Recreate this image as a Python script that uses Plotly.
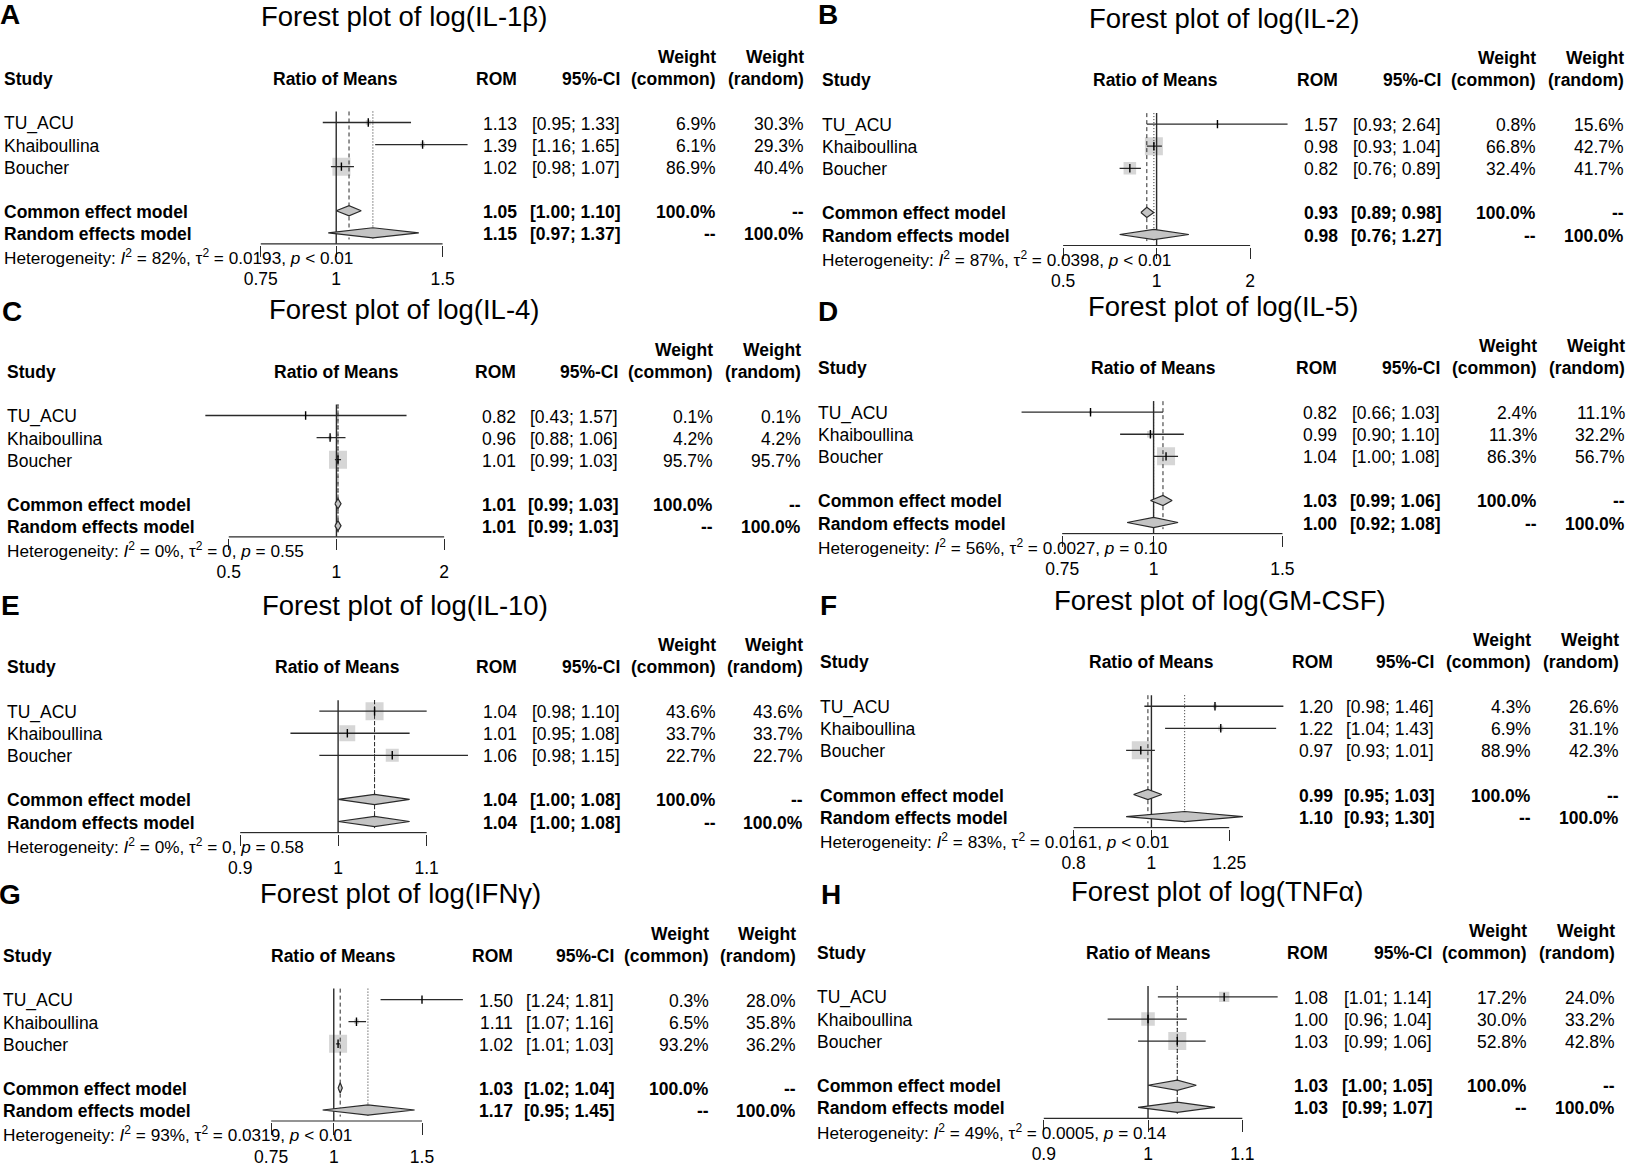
import numpy as np
import plotly.graph_objects as go

# ---- data ----
studies = ["TU_ACU", "Khaiboullina", "Boucher"]
letters = ["A", "B", "C", "D", "E", "F", "G", "H"]
cytokines = ["IL-1β", "IL-2", "IL-4", "IL-5", "IL-10", "GM-CSF", "IFNγ", "TNFα"]

rom = [[1.13, 1.39, 1.02], [1.57, 0.98, 0.82], [0.82, 0.96, 1.01], [0.82, 0.99, 1.04],
       [1.04, 1.01, 1.06], [1.20, 1.22, 0.97], [1.50, 1.11, 1.02], [1.08, 1.00, 1.03]]
ci_low = [[0.95, 1.16, 0.98], [0.93, 0.93, 0.76], [0.43, 0.88, 0.99], [0.66, 0.90, 1.00],
          [0.98, 0.95, 0.98], [0.98, 1.04, 0.93], [1.24, 1.07, 1.01], [1.01, 0.96, 0.99]]
ci_high = [[1.33, 1.65, 1.07], [2.64, 1.04, 0.89], [1.57, 1.06, 1.03], [1.03, 1.10, 1.08],
           [1.10, 1.08, 1.15], [1.46, 1.43, 1.01], [1.81, 1.16, 1.03], [1.14, 1.04, 1.06]]
w_common = [[6.9, 6.1, 86.9], [0.8, 66.8, 32.4], [0.1, 4.2, 95.7], [2.4, 11.3, 86.3],
            [43.6, 33.7, 22.7], [4.3, 6.9, 88.9], [0.3, 6.5, 93.2], [17.2, 30.0, 52.8]]
w_random = [[30.3, 29.3, 40.4], [15.6, 42.7, 41.7], [0.1, 4.2, 95.7], [11.1, 32.2, 56.7],
            [43.6, 33.7, 22.7], [26.6, 31.1, 42.3], [28.0, 35.8, 36.2], [24.0, 33.2, 42.8]]

common_est = [1.05, 0.93, 1.01, 1.03, 1.04, 0.99, 1.03, 1.03]
common_lo = [1.00, 0.89, 0.99, 0.99, 1.00, 0.95, 1.02, 1.00]
common_hi = [1.10, 0.98, 1.03, 1.06, 1.08, 1.03, 1.04, 1.05]
random_est = [1.15, 0.98, 1.01, 1.00, 1.04, 1.10, 1.17, 1.03]
random_lo = [0.97, 0.76, 0.99, 0.92, 1.00, 0.93, 0.95, 0.99]
random_hi = [1.37, 1.27, 1.03, 1.08, 1.08, 1.30, 1.45, 1.07]

i2 = [82, 87, 0, 56, 0, 83, 93, 49]
tau2 = ["0.0193", "0.0398", "0", "0.0027", "0", "0.0161", "0.0319", "0.0005"]
p_text = ["< 0.01", "< 0.01", "= 0.55", "= 0.10", "= 0.58", "< 0.01", "< 0.01", "= 0.14"]

ticks = [[0.75, 1, 1.5], [0.5, 1, 2], [0.5, 1, 2], [0.75, 1, 1.5],
         [0.9, 1, 1.1], [0.8, 1, 1.25], [0.75, 1, 1.5], [0.9, 1, 1.1]]

# ---- layout positions (pixels in a 1568 x 1123 frame) ----
W, H = 1568.0, 1123.0
S = 21.38  # row height
row1 = [118.7, 120.3, 402.6, 399.4, 689.1, 684.3, 968.6, 966.0]
title_x = [389, 1178.7, 389.3, 1177.4, 390.3, 1174.6, 385.3, 1171.6]
study_x = [2, 789.6, 5, 785.6, 5, 787, 1, 784.6]
rm_x = [323, 1112, 324, 1110.3, 324.6, 1108.8, 320.7, 1105.3]
rom_r = [499.6, 1289.7, 498.6, 1288.7, 499.6, 1284.7, 495.7, 1280.6]
ci_r = [599, 1388.7, 596.5, 1387.8, 599, 1382.7, 592.6, 1380.2]
wc_r = [691, 1480.7, 688.5, 1481.7, 691, 1475.6, 684.6, 1472.2]
wr_r = [775.6, 1565, 773, 1566, 774.6, 1560.2, 768.1, 1556.1]
tick_px = [(251, 426), (1023.3, 1203.3), (220.2, 427.5), (1022.4, 1234.4),
           (231.2, 410.7), (1033.4, 1183.2), (261, 406.2), (1004.7, 1195.8)]
letter_x = [10, 797, 12, 797, 10, 797, 10, 800]
letter_y = [14.4, 14.4, 301.6, 301.6, 587.1, 587.1, 866.5, 866.5]

FONT = "Liberation Sans, Arial, sans-serif"
FS = 17.5
DARK = "#2a2a2a"
GREY = "#C4C4C4"


def px(x):
    return x / W


def py(y):
    return 1 - y / H


annotations = []


def ann(x, y, text, anchor="left", bold=False, size=FS):
    annotations.append(dict(
        x=px(x), y=py(y), xref="paper", yref="paper",
        text="<b>" + text + "</b>" if bold else text,
        showarrow=False, xanchor=anchor, yanchor="middle",
        font=dict(family=FONT, size=size, color="black")))


fig = go.Figure()
layout_axes = {}

for i in range(8):
    n = i + 1
    xname = "x" if n == 1 else "x%d" % n
    yname = "y" if n == 1 else "y%d" % n
    r1 = row1[i]

    # x scale from tick calibration
    t0, t1 = ticks[i][0], ticks[i][-1]
    p0, p1 = tick_px[i]
    s10 = (p1 - p0) / (np.log10(t1) - np.log10(t0))
    L = study_x[i] + 170
    R = rom_r[i] - 38
    xr = [np.log10(t0) - (p0 - L) / s10, np.log10(t0) + (R - p0) / s10]

    y_top = r1 - 0.55 * S   # row 0.45
    y_bot = r1 + 5.55 * S   # row 6.55

    layout_axes["xaxis" if n == 1 else "xaxis%d" % n] = dict(
        type="log", domain=[px(L), px(R)], range=xr, anchor=yname,
        tickvals=ticks[i], ticktext=["%g" % t for t in ticks[i]],
        ticks="outside", ticklen=11.5, tickwidth=1.2, tickcolor=DARK,
        ticklabelstandoff=7,
        showgrid=False, zeroline=False, showline=False,
        tickfont=dict(family=FONT, size=FS, color="black"))
    layout_axes["yaxis" if n == 1 else "yaxis%d" % n] = dict(
        domain=[py(y_bot), py(y_top)], range=[6.55, 0.45], anchor=xname,
        visible=False, showgrid=False, zeroline=False)

    rows = [1, 2, 3]
    wmax = max(w_common[i])
    sizes = [18 * np.sqrt(w / wmax) for w in w_common[i]]

    # squares
    fig.add_trace(go.Scatter(
        x=rom[i], y=rows, mode="markers", xaxis=xname, yaxis=yname,
        marker=dict(symbol="square", size=sizes, color=GREY, line=dict(width=0)),
        showlegend=False, hoverinfo="skip"))

    # reference lines
    fig.add_trace(go.Scatter(x=[1, 1], y=[0.5, 6.5], mode="lines", xaxis=xname, yaxis=yname,
                             line=dict(color=DARK, width=1.4), showlegend=False, hoverinfo="skip"))
    fig.add_trace(go.Scatter(x=[common_est[i]] * 2, y=[0.5, 6.3], mode="lines", xaxis=xname, yaxis=yname,
                             line=dict(color=DARK, width=1, dash="4px,3px"), showlegend=False, hoverinfo="skip"))
    fig.add_trace(go.Scatter(x=[random_est[i]] * 2, y=[0.5, 6.3], mode="lines", xaxis=xname, yaxis=yname,
                             line=dict(color=DARK, width=1, dash="1px,2px"), showlegend=False, hoverinfo="skip"))

    # CI lines
    cx, cy = [], []
    for k in range(3):
        cx += [ci_low[i][k], ci_high[i][k], None]
        cy += [rows[k], rows[k], None]
    fig.add_trace(go.Scatter(x=cx, y=cy, mode="lines", xaxis=xname, yaxis=yname,
                             line=dict(color=DARK, width=1.3), showlegend=False, hoverinfo="skip"))
    # point estimates
    fig.add_trace(go.Scatter(
        x=rom[i], y=rows, mode="markers", xaxis=xname, yaxis=yname,
        marker=dict(symbol="line-ns-open", size=6, color="black", line=dict(color="black", width=1.4)),
        showlegend=False, hoverinfo="skip"))

    # diamonds
    h = 0.23
    for yy, est, lo, hi in [(5, common_est[i], common_lo[i], common_hi[i]),
                            (6, random_est[i], random_lo[i], random_hi[i])]:
        fig.add_trace(go.Scatter(
            x=[lo, est, hi, est, lo], y=[yy, yy - h, yy, yy + h, yy],
            mode="lines", fill="toself", fillcolor=GREY, xaxis=xname, yaxis=yname,
            line=dict(color=DARK, width=1.2), showlegend=False, hoverinfo="skip"))

    # axis baseline between the outer ticks
    fig.add_trace(go.Scatter(x=[t0, t1], y=[6.5, 6.5], mode="lines", xaxis=xname, yaxis=yname,
                             line=dict(color=DARK, width=1.2), showlegend=False, hoverinfo="skip"))

    # ---- text ----
    ann(letter_x[i], letter_y[i], letters[i], anchor="center", bold=True, size=28)
    ann(title_x[i], r1 - 102.5, "Forest plot of log(%s)" % cytokines[i], anchor="center", size=27.5)

    h1, h2 = r1 - 63.8, r1 - 42.5
    ann(study_x[i], h2, "Study", bold=True)
    ann(rm_x[i], h2, "Ratio of Means", anchor="center", bold=True)
    ann(rom_r[i], h2, "ROM", anchor="right", bold=True)
    ann(ci_r[i], h2, "95%-CI", anchor="right", bold=True)
    ann(wc_r[i], h1, "Weight", anchor="right", bold=True)
    ann(wc_r[i], h2, "(common)", anchor="right", bold=True)
    ann(wr_r[i], h1, "Weight", anchor="right", bold=True)
    ann(wr_r[i], h2, "(random)", anchor="right", bold=True)

    for k in range(3):
        yk = r1 + k * S + 1
        ann(study_x[i], yk, studies[k])
        ann(rom_r[i], yk, "%.2f" % rom[i][k], anchor="right")
        ann(ci_r[i], yk, "[%.2f; %.2f]" % (ci_low[i][k], ci_high[i][k]), anchor="right")
        ann(wc_r[i], yk, "%.1f%%" % w_common[i][k], anchor="right")
        ann(wr_r[i], yk, "%.1f%%" % w_random[i][k], anchor="right")

    yc, yr = r1 + 4 * S + 1, r1 + 5 * S + 1
    ann(study_x[i], yc, "Common effect model", bold=True)
    ann(rom_r[i], yc, "%.2f" % common_est[i], anchor="right", bold=True)
    ann(ci_r[i], yc, "[%.2f; %.2f]" % (common_lo[i], common_hi[i]), anchor="right", bold=True)
    ann(wc_r[i], yc, "100.0%", anchor="right", bold=True)
    ann(wr_r[i], yc, "--", anchor="right", bold=True)
    ann(study_x[i], yr, "Random effects model", bold=True)
    ann(rom_r[i], yr, "%.2f" % random_est[i], anchor="right", bold=True)
    ann(ci_r[i], yr, "[%.2f; %.2f]" % (random_lo[i], random_hi[i]), anchor="right", bold=True)
    ann(wc_r[i], yr, "--", anchor="right", bold=True)
    ann(wr_r[i], yr, "100.0%", anchor="right", bold=True)

    het = "Heterogeneity: <i>I</i><sup>2</sup> = %d%%, τ<sup>2</sup> = %s, <i>p</i> %s" % (
        i2[i], tau2[i], p_text[i].replace("<", "&lt;"))
    ann(study_x[i], r1 + 130.5, het, size=17.2)

fig.update_layout(
    width=1629, height=1167,
    margin=dict(l=0, r=0, t=0, b=0),
    paper_bgcolor="white", plot_bgcolor="rgba(0,0,0,0)",
    annotations=annotations,
    showlegend=False,
    **layout_axes)

fig.write_html("out.html", config={"displayModeBar": False},
               post_script="document.body.style.margin='0';")
